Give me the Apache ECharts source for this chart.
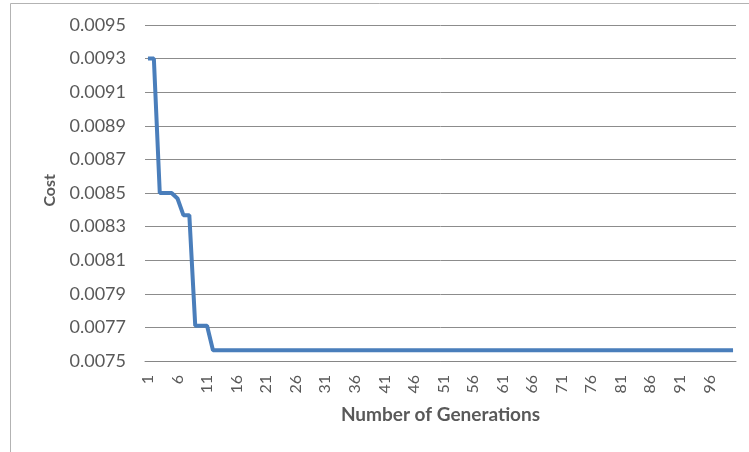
<!DOCTYPE html>
<html>
<head>
<meta charset="utf-8">
<script src="https://cdn.jsdelivr.net/npm/echarts@6/dist/echarts.min.js"></script>
<style>
  html, body { margin: 0; padding: 0; background: #ffffff; }
  #chart { width: 749px; height: 452px; }
</style>
</head>
<body>
<div id="chart"></div>
<script>
// Generation numbers 1..100
const generations = [];
for (let g = 1; g <= 100; g++) generations.push(String(g));

// Best cost found at each generation (first 12 read individually, then flat)
const costEarly = [0.0093, 0.0093, 0.0085, 0.0085, 0.0085, 0.008467, 0.008368, 0.008368,
                   0.00771, 0.00771, 0.00771, 0.007564];
const costPlateau = 0.007564;
const cost = costEarly.slice();
while (cost.length < generations.length) cost.push(costPlateau);

const yTicks = { min: 0.0075, max: 0.0095, step: 0.0002 };

const labelFont = 'Lato, "Open Sans", sans-serif';
const chart = echarts.init(document.getElementById('chart'));
chart.setOption({
  animation: false,
  backgroundColor: '#ffffff',
  graphic: [
    { type: 'polyline', shape: { points: [[10.5, 452], [10.5, 3.5], [749, 3.5]] },
      style: { stroke: '#b3b3b3', lineWidth: 1, fill: null } },
    { type: 'text', left: 42, top: 174, rotation: Math.PI / 2,
      style: { text: 'Cost', font: 'bold 16px ' + labelFont, fill: '#595959' } }
  ],
  grid: { left: 145, right: 13, top: 25, bottom: 91 },
  xAxis: {
    type: 'category',
    data: generations,
    boundaryGap: true,
    name: 'Number of Generations',
    nameLocation: 'middle',
    nameGap: 44,
    nameTextStyle: { fontFamily: labelFont, fontWeight: 'bold', fontSize: 19, color: '#595959' },
    axisLine: { lineStyle: { color: '#868686', width: 1 } },
    axisTick: { show: false },
    axisLabel: { interval: 4, rotate: 90, fontFamily: labelFont, fontSize: 16, color: '#595959', margin: 14 },
    splitLine: { show: false }
  },
  yAxis: {
    type: 'value',
    min: yTicks.min,
    max: yTicks.max,
    interval: yTicks.step,
    axisLine: { show: false },
    axisTick: { show: false },
    axisLabel: {
      fontFamily: labelFont, fontSize: 18, color: '#595959', margin: 19,
      formatter: v => v.toFixed(4)
    },
    splitLine: { lineStyle: { color: '#8c8c8c', width: 1 } }
  },
  series: [{
    type: 'line',
    data: cost,
    symbol: 'none',
    lineStyle: { color: '#4a7ebb', width: 4 },
    itemStyle: { color: '#4a7ebb' }
  }]
});
</script>
</body>
</html>
